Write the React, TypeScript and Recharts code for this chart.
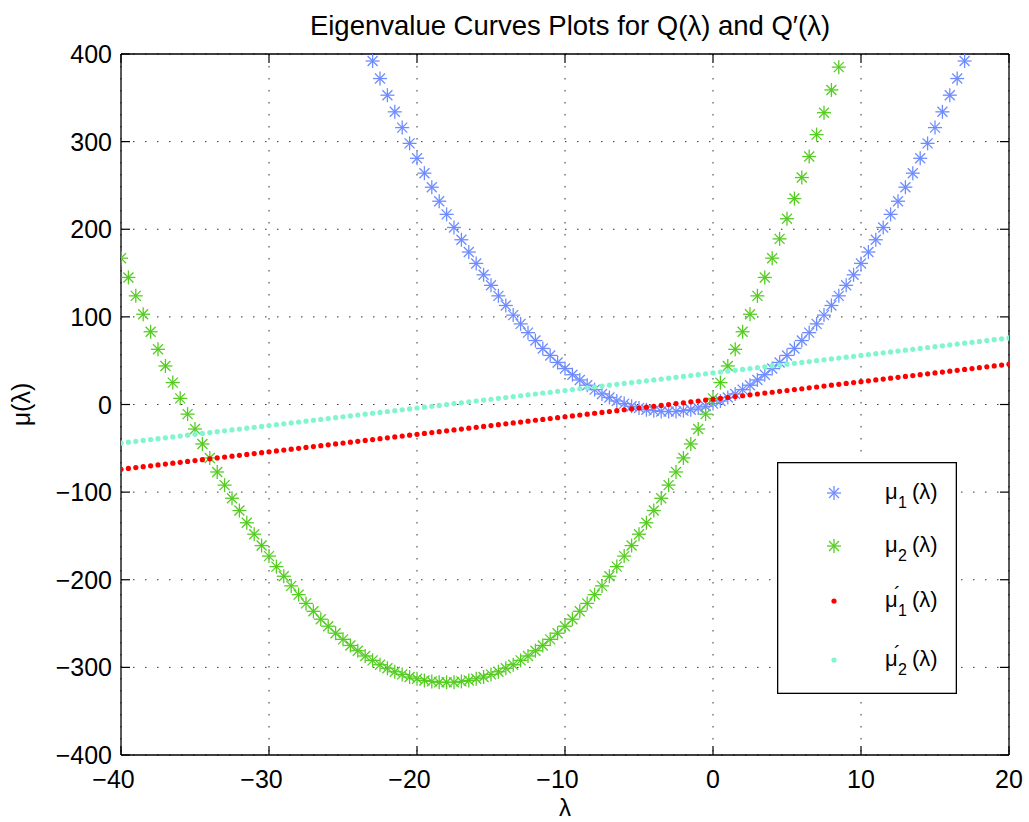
import React from 'react';
import { ScatterChart, Scatter, XAxis, YAxis, CartesianGrid, Legend } from 'recharts';

// λ sample points (step 0.5)
const lambda = [
  -40, -39.5, -39, -38.5, -38, -37.5, -37, -36.5, -36, -35.5,
  -35, -34.5, -34, -33.5, -33, -32.5, -32, -31.5, -31, -30.5,
  -30, -29.5, -29, -28.5, -28, -27.5, -27, -26.5, -26, -25.5,
  -25, -24.5, -24, -23.5, -23, -22.5, -22, -21.5, -21, -20.5,
  -20, -19.5, -19, -18.5, -18, -17.5, -17, -16.5, -16, -15.5,
  -15, -14.5, -14, -13.5, -13, -12.5, -12, -11.5, -11, -10.5,
  -10, -9.5, -9, -8.5, -8, -7.5, -7, -6.5, -6, -5.5,
  -5, -4.5, -4, -3.5, -3, -2.5, -2, -1.5, -1, -0.5,
  0, 0.5, 1, 1.5, 2, 2.5, 3, 3.5, 4, 4.5,
  5, 5.5, 6, 6.5, 7, 7.5, 8, 8.5, 9, 9.5,
  10, 10.5, 11, 11.5, 12, 12.5, 13, 13.5, 14, 14.5,
  15, 15.5, 16, 16.5, 17, 17.5, 18, 18.5, 19, 19.5,
  20,
];

const N = null;

// μ1(λ) — points outside the visible range are null
const mu1 = [
  N, N, N, N, N, N, N, N, N, N,
  N, N, N, N, N, N, N, N, N, N,
  N, N, N, N, N, N, N, N, N, N,
  N, N, N, N, 392, 372, 353, 334, 316, 298,
  281, 264, 248, 232, 217, 202, 188, 174, 161, 148,
  136, 124, 113, 102, 92, 82, 73, 64, 56, 48,
  41, 34, 28, 22, 17, 12, 8, 4, 1, -2,
  -4, -6, -7, -8, -8, -8, -7, -6, -4, -2,
  1, 4, 8, 12, 17, 22, 28, 34, 41, 48,
  56, 64, 73, 82, 92, 102, 113, 124, 136, 148,
  161, 174, 188, 202, 217, 232, 248, 264, 281, 298,
  316, 334, 353, 372, 392, N, N, N, N, N,
  N,
];

// μ2(λ)
const mu2 = [
  167, 145, 124, 103, 83, 63, 44, 25, 7, -11,
  -28, -45, -61, -77, -92, -107, -121, -135, -148, -161,
  -173, -185, -196, -207, -217, -227, -236, -245, -253, -261,
  -268, -275, -281, -287, -292, -297, -301, -305, -308, -311,
  -313, -315, -316, -317, -317, -317, -316, -315, -313, -311,
  -308, -305, -301, -297, -292, -287, -281, -275, -268, -261,
  -253, -245, -236, -227, -217, -207, -196, -185, -173, -161,
  -148, -135, -121, -107, -92, -77, -61, -45, -28, -11,
  7, 25, 44, 63, 83, 103, 124, 145, 167, 189,
  212, 235, 259, 283, 308, 333, 359, 385, N, N,
  N, N, N, N, N, N, N, N, N, N,
  N, N, N, N, N, N, N, N, N, N,
  N,
];

// μ'1(λ)
const mu1p = [
  -74, -73, -72, -71, -70, -69, -68, -67, -66, -65,
  -64, -63, -62, -61, -60, -59, -58, -57, -56, -55,
  -54, -53, -52, -51, -50, -49, -48, -47, -46, -45,
  -44, -43, -42, -41, -40, -39, -38, -37, -36, -35,
  -34, -33, -32, -31, -30, -29, -28, -27, -26, -25,
  -24, -23, -22, -21, -20, -19, -18, -17, -16, -15,
  -14, -13, -12, -11, -10, -9, -8, -7, -6, -5,
  -4, -3, -2, -1, 0, 1, 2, 3, 4, 5,
  6, 7, 8, 9, 10, 11, 12, 13, 14, 15,
  16, 17, 18, 19, 20, 21, 22, 23, 24, 25,
  26, 27, 28, 29, 30, 31, 32, 33, 34, 35,
  36, 37, 38, 39, 40, 41, 42, 43, 44, 45,
  46,
];

// μ'2(λ)
const mu2p = [
  -44, -43, -42, -41, -40, -39, -38, -37, -36, -35,
  -34, -33, -32, -31, -30, -29, -28, -27, -26, -25,
  -24, -23, -22, -21, -20, -19, -18, -17, -16, -15,
  -14, -13, -12, -11, -10, -9, -8, -7, -6, -5,
  -4, -3, -2, -1, 0, 1, 2, 3, 4, 5,
  6, 7, 8, 9, 10, 11, 12, 13, 14, 15,
  16, 17, 18, 19, 20, 21, 22, 23, 24, 25,
  26, 27, 28, 29, 30, 31, 32, 33, 34, 35,
  36, 37, 38, 39, 40, 41, 42, 43, 44, 45,
  46, 47, 48, 49, 50, 51, 52, 53, 54, 55,
  56, 57, 58, 59, 60, 61, 62, 63, 64, 65,
  66, 67, 68, 69, 70, 71, 72, 73, 74, 75,
  76,
];

const xTicks = [-40, -30, -20, -10, 0, 10, 20];
const yTicks = [-400, -300, -200, -100, 0, 100, 200, 300, 400];

const TITLE = 'Eigenvalue Curves Plots for Q(\u03bb) and Q\u2032(\u03bb)';
const X_LABEL = '\u03bb';
const Y_LABEL = '\u03bc(\u03bb)';

const FONT = '"Liberation Sans", Arial, Helvetica, sans-serif';
const BLUE = '#6f8cff';
const GREEN = '#55cc22';
const RED = '#ff0000';
const CYAN = '#80f5d0';

const toPoints = (ys: (number | null)[]) =>
  lambda
    .map((x, i) => ({ x, y: ys[i] }))
    .filter((p) => p.y !== null && p.y !== undefined);

const d1 = toPoints(mu1);
const d2 = toPoints(mu2);
const d3 = toPoints(mu1p);
const d4 = toPoints(mu2p);

const fmt = (v: number) => (v < 0 ? '\u2212' + Math.abs(v) : String(v));

function Asterisk({ cx, cy, color }: any) {
  if (cx == null || cy == null) return null;
  const r = 7;
  const d = 5;
  return (
    <g stroke={color} strokeWidth={1.3}>
      <line x1={cx - r} y1={cy} x2={cx + r} y2={cy} />
      <line x1={cx} y1={cy - r} x2={cx} y2={cy + r} />
      <line x1={cx - d} y1={cy - d} x2={cx + d} y2={cy + d} />
      <line x1={cx - d} y1={cy + d} x2={cx + d} y2={cy - d} />
    </g>
  );
}

function Dot({ cx, cy, color }: any) {
  if (cx == null || cy == null) return null;
  return <circle cx={cx} cy={cy} r={2.6} fill={color} />;
}

const TL = 9;

function BottomTick({ x, y, payload }: any) {
  const v = payload.value;
  return (
    <g>
      <line x1={x} y1={y} x2={x} y2={y - TL} stroke="#000" strokeWidth={1.2} />
      <text x={v < 0 ? x - 7.5 : x} y={y + 33} textAnchor="middle" fontSize={25} fontFamily={FONT} fill="#000">
        {fmt(v)}
      </text>
    </g>
  );
}

function TopTick({ x, y }: any) {
  return <line x1={x} y1={y} x2={x} y2={y + TL} stroke="#000" strokeWidth={1.2} />;
}

function LeftTick({ x, y, payload }: any) {
  const v = payload.value;
  return (
    <g>
      <line x1={x} y1={y} x2={x + TL} y2={y} stroke="#000" strokeWidth={1.2} />
      <text x={x - 9} y={y + 9} textAnchor="end" fontSize={25} fontFamily={FONT} fill="#000">
        {fmt(v)}
      </text>
    </g>
  );
}

function RightTick({ x, y }: any) {
  return <line x1={x} y1={y} x2={x - TL} y2={y} stroke="#000" strokeWidth={1.2} />;
}

const legendItems = [
  { sub: '1', prime: false, color: BLUE, kind: 'star', rowY: 31 },
  { sub: '2', prime: false, color: GREEN, kind: 'star', rowY: 84 },
  { sub: '1', prime: true, color: RED, kind: 'dot', rowY: 139 },
  { sub: '2', prime: true, color: CYAN, kind: 'dot', rowY: 198 },
];

function LegendBox() {
  const mx = 57;
  const lx = 108;
  return (
    <svg width={180} height={232} style={{ display: 'block' }}>
      <rect x={0.65} y={0.65} width={178.7} height={230.7} fill="#fff" stroke="#000" strokeWidth={1.3} />
      {legendItems.map((it, i) => {
        const b = it.rowY + 5.5;
        return (
          <g key={i}>
            {it.kind === 'star' ? (
              <Asterisk cx={mx} cy={it.rowY} color={it.color} />
            ) : (
              <Dot cx={mx} cy={it.rowY} color={it.color} />
            )}
            <text x={lx} y={b} fontSize={22} fontFamily={FONT} fill="#000">
              <tspan>{'\u03bc'}</tspan>
              {it.prime && (
                <tspan x={lx + 9} y={b - 6} fontSize={20}>{'\u00b4'}</tspan>
              )}
              <tspan x={lx + 13} y={b + 9} fontSize={16}>{it.sub}</tspan>
              <tspan x={lx + 27} y={b}>{'(\u03bb)'}</tspan>
            </text>
          </g>
        );
      })}
    </svg>
  );
}

const axisLine = { stroke: '#000', strokeWidth: 1.3 };

export default function App() {
  return (
    <div style={{ position: 'relative', width: 1029, height: 822, background: '#fff' }}>
      <style>{'body{margin:0;background:#fff;}'}</style>
      <ScatterChart
        width={1029}
        height={822}
        margin={{ top: 53, right: 19, bottom: 66, left: 120 }}
      >
        <CartesianGrid stroke="#333" strokeDasharray="1.5 10.5" strokeWidth={1} />
        <XAxis
          type="number"
          dataKey="x"
          domain={[-40, 20]}
          ticks={xTicks}
          interval={0}
          allowDataOverflow
          height={1}
          tickSize={0}
          tickMargin={0}
          tickLine={false}
          axisLine={axisLine}
          tick={<BottomTick />}
        />
        <XAxis
          xAxisId="top"
          orientation="top"
          type="number"
          dataKey="x"
          domain={[-40, 20]}
          ticks={xTicks}
          interval={0}
          allowDataOverflow
          height={1}
          tickSize={0}
          tickMargin={0}
          tickLine={false}
          axisLine={axisLine}
          tick={<TopTick />}
        />
        <YAxis
          type="number"
          dataKey="y"
          domain={[-400, 400]}
          ticks={yTicks}
          interval={0}
          allowDataOverflow
          width={1}
          tickSize={0}
          tickMargin={0}
          tickLine={false}
          axisLine={axisLine}
          tick={<LeftTick />}
        />
        <YAxis
          yAxisId="right"
          orientation="right"
          type="number"
          dataKey="y"
          domain={[-400, 400]}
          ticks={yTicks}
          interval={0}
          allowDataOverflow
          width={1}
          tickSize={0}
          tickMargin={0}
          tickLine={false}
          axisLine={axisLine}
          tick={<RightTick />}
        />
        <Scatter name="mu1" data={d1} isAnimationActive={false} shape={(p: any) => <Asterisk cx={p.cx} cy={p.cy} color={BLUE} />} />
        <Scatter name="mu2" data={d2} isAnimationActive={false} shape={(p: any) => <Asterisk cx={p.cx} cy={p.cy} color={GREEN} />} />
        <Scatter name="mu1p" data={d3} isAnimationActive={false} shape={(p: any) => <Dot cx={p.cx} cy={p.cy} color={RED} />} />
        <Scatter name="mu2p" data={d4} isAnimationActive={false} shape={(p: any) => <Dot cx={p.cx} cy={p.cy} color={CYAN} />} />
        <Legend
          layout="vertical"
          align="center"
          verticalAlign="middle"
          wrapperStyle={{ position: 'absolute', left: 777, top: 462, width: 180, height: 232 }}
          content={() => <LegendBox />}
        />
      </ScatterChart>
      <svg
        width={1029}
        height={822}
        style={{ position: 'absolute', left: 0, top: 0, pointerEvents: 'none' }}
      >
        <text x={570} y={35} textAnchor="middle" fontSize={27.5} fontFamily={FONT} fill="#000">
          {TITLE}
        </text>
        <text x={565} y={816} textAnchor="middle" fontSize={24} fontFamily={FONT} fill="#000">
          {X_LABEL}
        </text>
        <text
          x={0}
          y={0}
          transform="translate(30,404.5) rotate(-90)"
          textAnchor="middle"
          fontSize={25}
          fontFamily={FONT}
          fill="#000"
        >
          {Y_LABEL}
        </text>
      </svg>
    </div>
  );
}
